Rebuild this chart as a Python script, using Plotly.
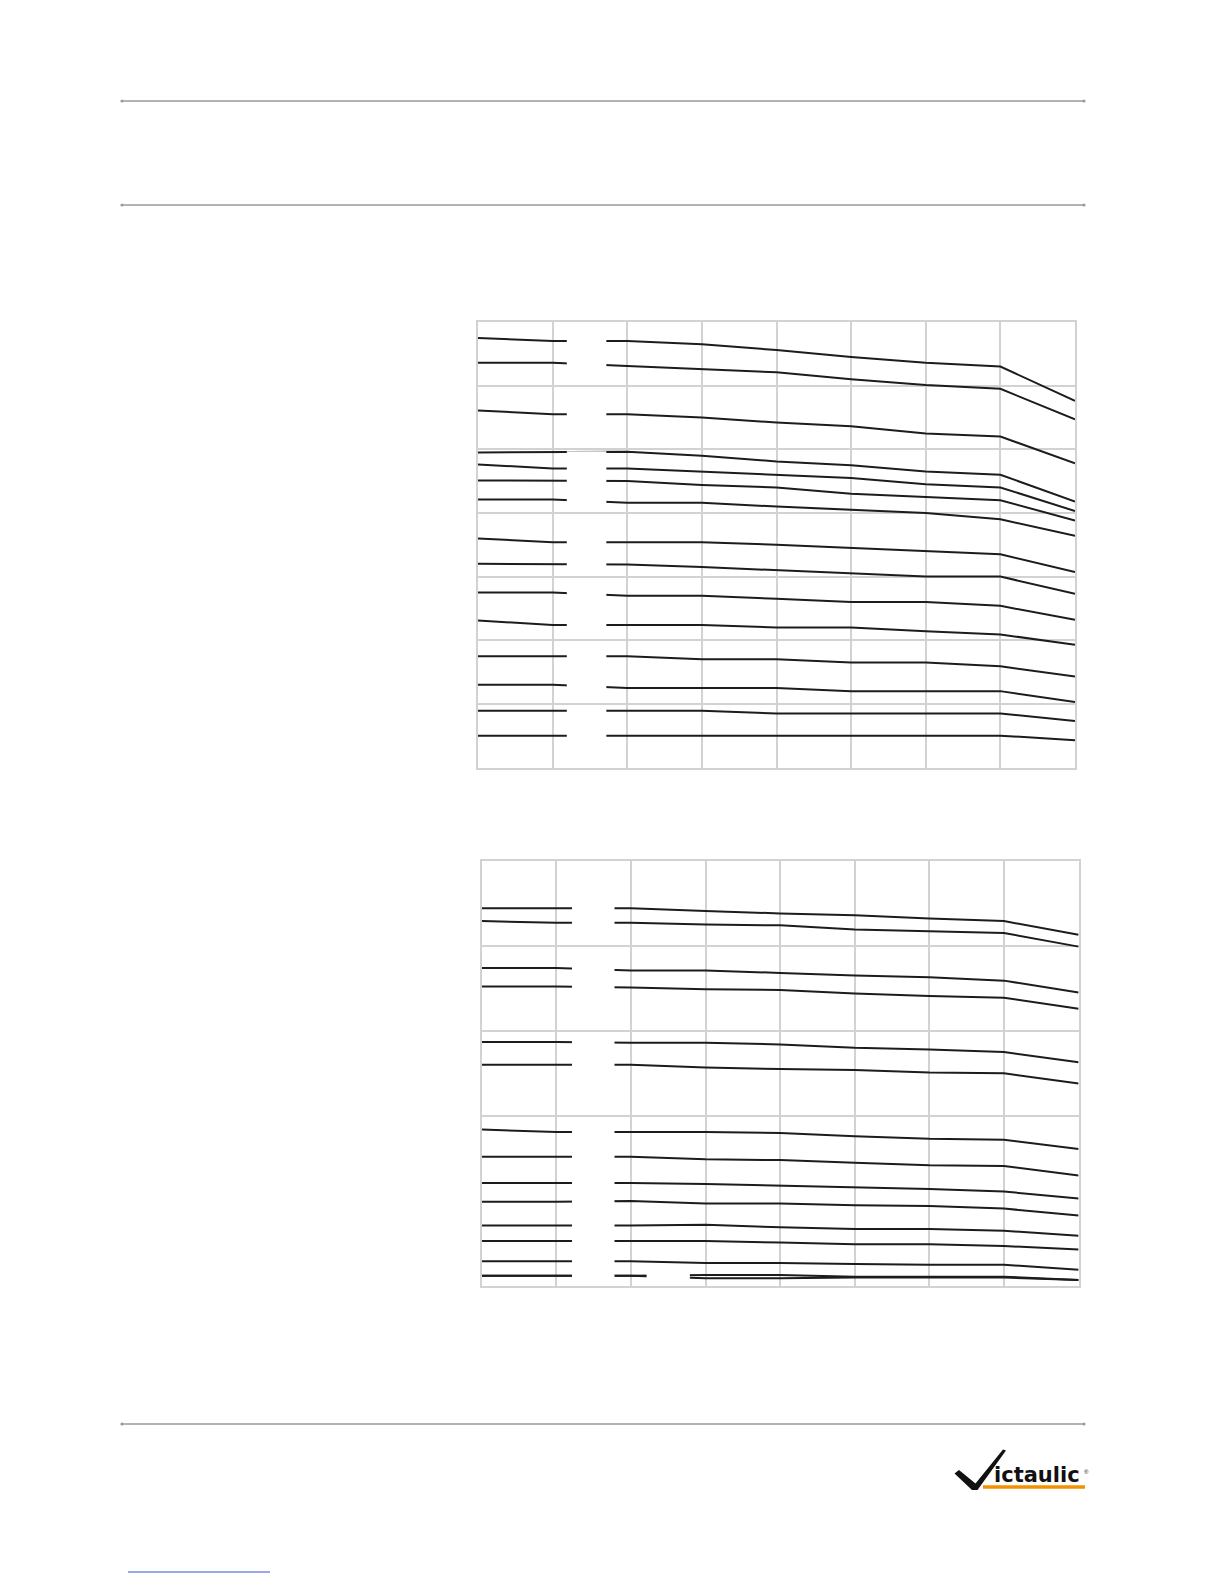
import plotly.graph_objects as go

# ---------------- data ----------------
x_positions = [0, 1, 2, 3, 4, 5, 6, 7, 8]

# upper chart (15 curves)
c1_line01 = [6.75, 6.70, 6.70, 6.65, 6.56, 6.45, 6.36, 6.30, 5.76]
c1_line02 = [6.36, 6.36, 6.31, 6.26, 6.21, 6.10, 6.01, 5.95, 5.47]
c1_line03 = [5.61, 5.55, 5.55, 5.50, 5.42, 5.36, 5.25, 5.20, 4.78]
c1_line04 = [4.95, 4.95, 4.96, 4.90, 4.81, 4.75, 4.65, 4.60, 4.18]
c1_line05 = [4.76, 4.70, 4.70, 4.65, 4.60, 4.55, 4.45, 4.40, 4.03]
c1_line06 = [4.51, 4.51, 4.50, 4.44, 4.40, 4.30, 4.25, 4.20, 3.88]
c1_line07 = [4.21, 4.21, 4.16, 4.16, 4.10, 4.05, 4.00, 3.90, 3.64]
c1_line08 = [3.60, 3.54, 3.54, 3.54, 3.50, 3.45, 3.41, 3.35, 3.07]
c1_line09 = [3.20, 3.20, 3.19, 3.15, 3.10, 3.05, 3.00, 3.00, 2.73]
c1_line10 = [2.75, 2.75, 2.70, 2.70, 2.65, 2.60, 2.60, 2.54, 2.32]
c1_line11 = [2.31, 2.24, 2.24, 2.24, 2.20, 2.20, 2.14, 2.09, 1.93]
c1_line12 = [1.75, 1.75, 1.75, 1.70, 1.70, 1.65, 1.65, 1.59, 1.43]
c1_line13 = [1.30, 1.30, 1.25, 1.25, 1.25, 1.20, 1.20, 1.20, 1.03]
c1_line14 = [0.89, 0.89, 0.89, 0.89, 0.85, 0.85, 0.85, 0.85, 0.73]
c1_line15 = [0.50, 0.50, 0.50, 0.50, 0.50, 0.50, 0.50, 0.50, 0.43]

# lower chart (15 curves)
c2_line01 = [4.44, 4.44, 4.44, 4.41, 4.38, 4.36, 4.32, 4.29, 4.13]
c2_line02 = [4.29, 4.27, 4.27, 4.25, 4.24, 4.19, 4.17, 4.15, 3.99]
c2_line03 = [3.74, 3.74, 3.71, 3.71, 3.68, 3.65, 3.63, 3.59, 3.45]
c2_line04 = [3.52, 3.52, 3.51, 3.49, 3.48, 3.44, 3.41, 3.39, 3.26]
c2_line05 = [2.87, 2.87, 2.86, 2.86, 2.84, 2.80, 2.78, 2.75, 2.63]
c2_line06 = [2.60, 2.60, 2.60, 2.57, 2.55, 2.54, 2.51, 2.50, 2.38]
c2_line07 = [1.84, 1.81, 1.81, 1.81, 1.80, 1.76, 1.73, 1.72, 1.61]
c2_line08 = [1.52, 1.52, 1.52, 1.49, 1.48, 1.45, 1.42, 1.41, 1.30]
c2_line09 = [1.21, 1.21, 1.21, 1.20, 1.18, 1.16, 1.14, 1.11, 1.03]
c2_line10 = [0.99, 0.99, 1.00, 0.97, 0.97, 0.95, 0.94, 0.91, 0.83]
c2_line11 = [0.71, 0.71, 0.71, 0.72, 0.69, 0.67, 0.67, 0.65, 0.59]
c2_line12 = [0.53, 0.53, 0.53, 0.53, 0.51, 0.49, 0.49, 0.47, 0.43]
c2_line13 = [0.29, 0.29, 0.29, 0.27, 0.27, 0.26, 0.25, 0.25, 0.19]
c2_line14 = [0.12, 0.12, 0.12, 0.13, 0.13, 0.11, 0.11, 0.11, 0.07]
c2_line15 = [0.12, 0.12, 0.12, 0.09, 0.09, 0.10, 0.10, 0.10, 0.07]

c1_lines = [c1_line01, c1_line02, c1_line03, c1_line04, c1_line05, c1_line06, c1_line07,
            c1_line08, c1_line09, c1_line10, c1_line11, c1_line12, c1_line13, c1_line14, c1_line15]
c2_lines = [c2_line01, c2_line02, c2_line03, c2_line04, c2_line05, c2_line06, c2_line07,
            c2_line08, c2_line09, c2_line10, c2_line11, c2_line12, c2_line13, c2_line14, c2_line15]

c1_yticks = [0, 1, 2, 3, 4, 5, 6, 7]
c2_yticks = [0, 2, 3, 4, 5]

# ---------------- figure ----------------
BODY = 8                      # default page body margin
W, H = 1224 - 2 * BODY, 1584 - 2 * BODY
LINE = "#1c1c1c"
GRID = "#d2d2d2"

fig = go.Figure()
for ys in c1_lines:
    fig.add_trace(go.Scatter(x=x_positions, y=ys, mode="lines", xaxis="x", yaxis="y",
                             line=dict(color=LINE, width=2), showlegend=False, hoverinfo="skip"))
for ys in c2_lines:
    fig.add_trace(go.Scatter(x=x_positions, y=ys, mode="lines", xaxis="x2", yaxis="y2",
                             line=dict(color=LINE, width=2), showlegend=False, hoverinfo="skip"))


def px_x(p):
    return (p - BODY) / W


def px_y(p):
    return 1 - (p - BODY) / H


ax_common = dict(showticklabels=False, ticks="", showgrid=True, gridcolor=GRID, gridwidth=1.5,
                 zeroline=False, showline=True, linecolor=GRID, linewidth=1.5, mirror=True,
                 fixedrange=True)

fig.update_layout(
    width=W, height=H,
    margin=dict(l=0, r=0, t=0, b=0),
    paper_bgcolor="white", plot_bgcolor="white",
    showlegend=False,
    xaxis=dict(domain=[px_x(478), px_x(1075)], range=[0, 8], tickvals=x_positions, anchor="y", **ax_common),
    yaxis=dict(domain=[px_y(767.5), px_y(322)], range=[0, 7], tickvals=c1_yticks, anchor="x", **ax_common),
    xaxis2=dict(domain=[px_x(481.7), px_x(1078.6)], range=[0, 8], tickvals=x_positions, anchor="y2", **ax_common),
    yaxis2=dict(domain=[px_y(1286), px_y(860.7)], range=[0, 5], tickvals=c2_yticks, anchor="x2", **ax_common),
)

shapes = []
# white gaps in the curves (where labels sat), kept off the gridlines
for k in range(7):
    shapes.append(dict(type="rect", xref="x", yref="y", x0=1.19, x1=1.72, y0=k + 0.03, y1=k + 0.97,
                       fillcolor="white", line=dict(width=0), layer="above"))
bands2 = [(0.02, 1.98), (2.02, 2.98), (3.02, 3.98), (4.02, 4.98)]
for b0, b1 in bands2:
    shapes.append(dict(type="rect", xref="x2", yref="y2", x0=1.21, x1=1.78, y0=b0, y1=b1,
                       fillcolor="white", line=dict(width=0), layer="above"))
shapes.append(dict(type="rect", xref="x2", yref="y2", x0=2.21, x1=2.79, y0=0.02, y1=0.2,
                   fillcolor="white", line=dict(width=0), layer="above"))

# page rules
for yy in (101, 205, 1424):
    shapes.append(dict(type="line", xref="paper", yref="paper", x0=px_x(122), x1=px_x(1084),
                       y0=px_y(yy), y1=px_y(yy), line=dict(color="#9a9a9a", width=1.3)))
    for xx in (122, 1084):
        shapes.append(dict(type="circle", xref="paper", yref="paper",
                           x0=px_x(xx - 1.6), x1=px_x(xx + 1.6), y0=px_y(yy + 1.6), y1=px_y(yy - 1.6),
                           fillcolor="#9a9a9a", line=dict(width=0)))

# logo: check-mark "V", orange underline; link underline (blue)
v_pts = [(954.5, 1473.5), (959, 1470), (975.5, 1483.5), (1003, 1449.5), (1006, 1450.5),
         (977.5, 1490), (972, 1490)]
v_path = "M " + " L ".join(f"{px_x(a):.5f},{px_y(b):.5f}" for a, b in v_pts) + " Z"
shapes.append(dict(type="path", xref="paper", yref="paper", path=v_path,
                   fillcolor="#111111", line=dict(width=0)))
shapes.append(dict(type="line", xref="paper", yref="paper", x0=px_x(983), x1=px_x(1085),
                   y0=px_y(1487), y1=px_y(1487), line=dict(color="#f39200", width=3.5)))
shapes.append(dict(type="line", xref="paper", yref="paper", x0=px_x(128), x1=px_x(270),
                   y0=px_y(1572), y1=px_y(1572), line=dict(color="#3355cc", width=1)))
fig.update_layout(shapes=shapes)

fig.add_annotation(xref="paper", yref="paper", x=px_x(1082), y=px_y(1475), text="<b>ictaulic</b>",
                   showarrow=False, xanchor="right", yanchor="middle",
                   font=dict(family="DejaVu Sans", size=21, color="#111111"))
fig.add_annotation(xref="paper", yref="paper", x=px_x(1086), y=px_y(1472), text="®",
                   showarrow=False, xanchor="center", yanchor="middle",
                   font=dict(family="Liberation Sans, Arial", size=6, color="#111111"))

fig.write_html("out.html")
